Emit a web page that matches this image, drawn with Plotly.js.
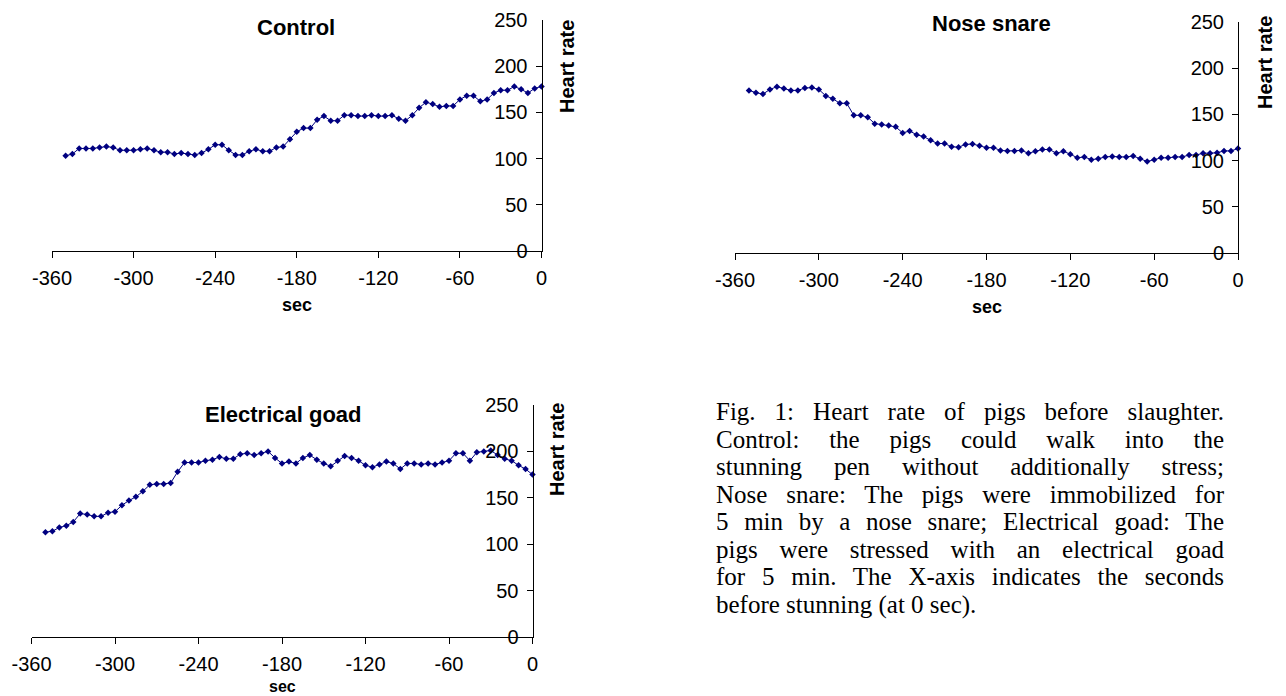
<!DOCTYPE html>
<html>
<head>
<meta charset="utf-8">
<script src="https://cdn.plot.ly/plotly-3.0.1.min.js"></script>
<style>
html,body{margin:0;padding:0;background:#fff;}
#chart{position:absolute;left:0;top:0;width:1286px;height:696px;}
#caption{position:absolute;left:716px;top:398px;width:508px;font-family:"Liberation Serif","Times New Roman",serif;font-size:25px;line-height:27.5px;color:#000;}
#caption .ln{text-align:justify;text-align-last:justify;}
#caption .last{text-align:left;text-align-last:left;}
</style>
</head>
<body>
<div id="chart"></div>
<div id="caption"></div>
<script>
// ---- data ----
const secs = [-350,-345,-340,-335,-330,-325,-320,-315,-310,-305,-300,-295,-290,-285,-280,-275,-270,-265,-260,-255,
              -250,-245,-240,-235,-230,-225,-220,-215,-210,-205,-200,-195,-190,-185,-180,-175,-170,-165,-160,-155,
              -150,-145,-140,-135,-130,-125,-120,-115,-110,-105,-100,-95,-90,-85,-80,-75,-70,-65,-60,-55,
              -50,-45,-40,-35,-30,-25,-20,-15,-10,-5,0];
const controlHR = [103,105,111,111,111,112,113,112,109,109,109,110,111,109,107,107,105,106,105,104,
                   106,110,115,115,109,104,104,108,110,108,108,112,113,121,129,133,133,142,146,141,
                   141,147,147,146,146,147,146,146,147,143,141,147,155,161,159,156,157,157,164,168,
                   168,162,164,171,174,174,178,175,171,176,178];
const noseHR = [176,173.5,172,177,180,178,176,176,178.5,179,177,170,167,162,162,149,149,147,140,139,
                138,136.5,130,132,128,126,122,118.5,118.5,115,114.5,117.5,118,116,114,114,111,110.5,110.5,111,
                108,110,112,112,108,110,107,103,104,101,102,104,104.5,104,104,105,102,99,101,103,
                103,104,104,106,106,108,108,108.5,110.5,110.5,113];
const goadHR = [113,114,118,120,124,133,132,130,130,134,135,142,147,151,157,164,165,165,166,178,
                188,188,188,190,191,194,192,192,197,198,196,198,200,193,187,189,187,193,196,191,
                187,184,190,195,193,190,185,183,186,189,187,181,187,187,186,187,186,188,190,198,
                198,190,199,200,201,196,192,190,185,181,175];
const panelTitles = ['Control','Nose snare','Electrical goad'];
const xTickVals = [-360,-300,-240,-180,-120,-60,0];
const xTickText = ['-360','-300','-240','-180','-120','-60','0'];
const yTickVals = [0,50,100,150,200,250];
const yTickText = ['0','50','100','150','200','250'];
const xTitle = 'sec';
const yTitle = 'Heart rate';
const captionLines = [
  'Fig. 1: Heart rate of pigs before slaughter.',
  'Control: the pigs could walk into the',
  'stunning pen without additionally stress;',
  'Nose snare: The pigs were immobilized for',
  '5 min by a nose snare; Electrical goad: The',
  'pigs were stressed with an electrical goad',
  'for 5 min. The X-axis indicates the seconds',
  'before stunning (at 0 sec).'
];

// ---- layout geometry (pixels in the 1286x696 page) ----
const W = 1286, H = 696;
const panels = [
  {x0:52,  x1:541.5, yTop:20,  yBot:251, titleX:296, titleY:27,  yTitleX:567,  yTitleY:67,  xTitleY:305, xTitleAnchor:'middle', xTitleSize:18},
  {x0:735, x1:1238,  yTop:22,  yBot:253, titleX:992, titleY:24,  yTitleX:1265, yTitleY:63,  xTitleY:307, xTitleAnchor:'middle', xTitleSize:18},
  {x0:31.5,x1:532.5, yTop:405, yBot:637, titleX:283, titleY:414, yTitleX:557,  yTitleY:450, xTitleY:696, xTitleAnchor:'bottom', xTitleSize:16}
];
const series = [controlHR, noseHR, goadHR];
const FONT = 'Liberation Sans, Arial, sans-serif';
const navy = '#000080';

const traces = [];
const layout = {
  width: W, height: H,
  margin: {l:0, r:0, t:0, b:0},
  paper_bgcolor: '#fff', plot_bgcolor: 'rgba(0,0,0,0)',
  showlegend: false,
  font: {family: FONT, color: '#000'},
  annotations: []
};

panels.forEach((p, i) => {
  const sfx = i === 0 ? '' : String(i + 1);
  traces.push({
    type: 'scatter', mode: 'lines+markers',
    x: secs, y: series[i],
    xaxis: 'x' + sfx, yaxis: 'y' + sfx,
    line: {color: navy, width: 1},
    marker: {color: navy, symbol: 'diamond', size: 5},
    cliponaxis: false,
    hoverinfo: 'x+y'
  });
  layout['xaxis' + sfx] = {
    domain: [p.x0 / W, p.x1 / W],
    anchor: 'y' + sfx,
    range: [-360, 0],
    tickmode: 'array', tickvals: xTickVals, ticktext: xTickText,
    ticks: 'outside', ticklen: 6, tickwidth: 1, tickcolor: '#000',
    ticklabelstandoff: 3,
    showline: true, linecolor: '#000', linewidth: 1,
    showgrid: false, zeroline: false,
    tickfont: {family: FONT, size: 20, color: '#000'},
    fixedrange: true
  };
  layout['yaxis' + sfx] = {
    domain: [1 - p.yBot / H, 1 - p.yTop / H],
    anchor: 'x' + sfx,
    side: 'right',
    range: [0, 250],
    tickmode: 'array', tickvals: yTickVals, ticktext: yTickText,
    ticks: 'inside', ticklen: 6, tickwidth: 1, tickcolor: '#000',
    ticklabelposition: 'inside', ticklabeloverflow: 'allow',
    ticklabelstandoff: 9,
    showline: true, linecolor: '#000', linewidth: 1,
    showgrid: false, zeroline: false,
    tickfont: {family: FONT, size: 20, color: '#000'},
    fixedrange: true
  };
  // panel title
  layout.annotations.push({
    xref: 'paper', yref: 'paper', x: p.titleX / W, y: 1 - p.titleY / H,
    xanchor: 'center', yanchor: 'middle', showarrow: false,
    text: '<b>' + panelTitles[i] + '</b>',
    font: {family: FONT, size: 22, color: '#000'}
  });
  // y-axis title (Excel style: at the top, right of the axis)
  layout.annotations.push({
    xref: 'paper', yref: 'paper', x: p.yTitleX / W, y: 1 - p.yTitleY / H,
    xanchor: 'center', yanchor: 'middle', showarrow: false, textangle: -90,
    text: '<b>' + yTitle + '</b>',
    font: {family: FONT, size: 20, color: '#000'}
  });
  // x-axis title
  layout.annotations.push({
    xref: 'x' + sfx + ' domain', yref: 'paper', x: 0.5, y: 1 - p.xTitleY / H,
    xanchor: 'center', yanchor: p.xTitleAnchor, showarrow: false, borderpad: 0,
    text: '<b>' + xTitle + '</b>',
    font: {family: FONT, size: p.xTitleSize, color: '#000'}
  });
});

Plotly.newPlot('chart', traces, layout, {staticPlot: true, displayModeBar: false});

const cap = document.getElementById('caption');
captionLines.forEach((t, i) => {
  const d = document.createElement('div');
  d.className = 'ln' + (i === captionLines.length - 1 ? ' last' : '');
  d.textContent = t;
  cap.appendChild(d);
});
</script>
</body>
</html>
